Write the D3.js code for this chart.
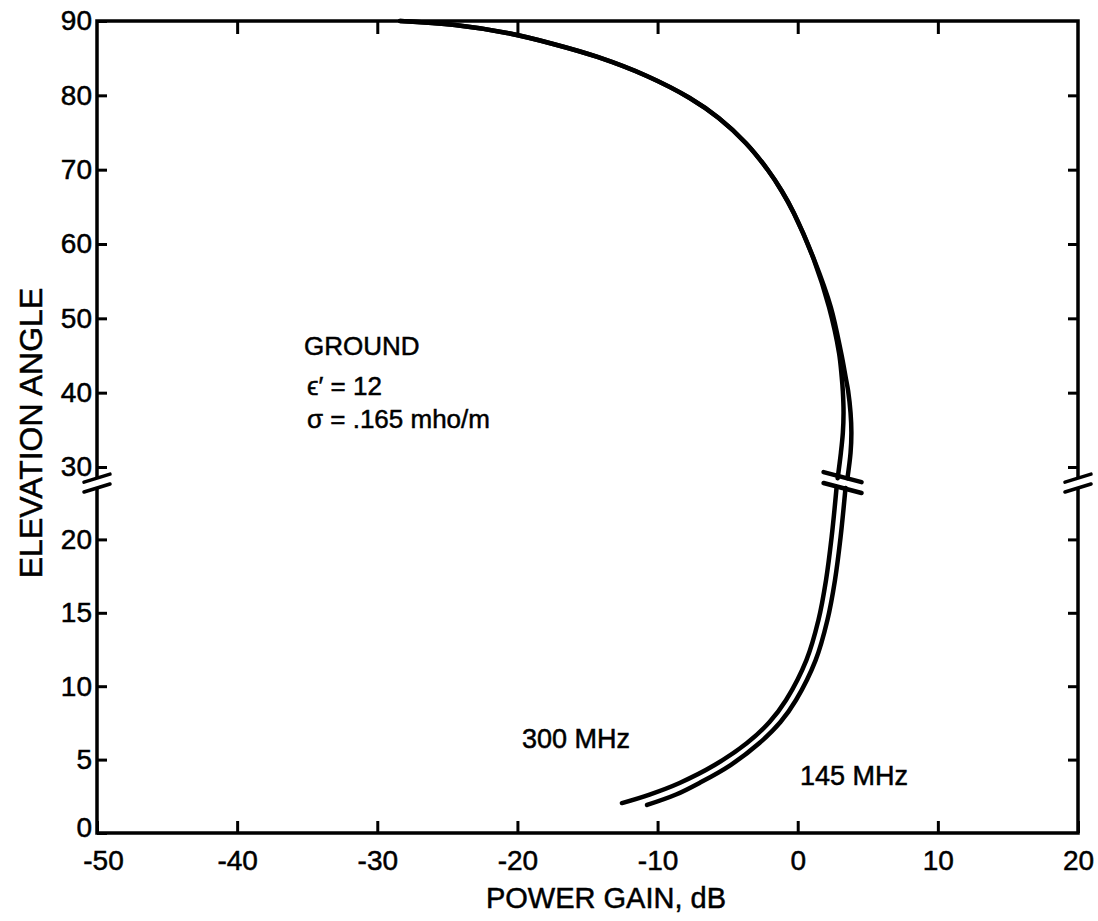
<!DOCTYPE html>
<html>
<head>
<meta charset="utf-8">
<script src="https://cdn.jsdelivr.net/npm/d3@7"></script>
<style>
  body { margin: 0; background: #fff; }
  svg { display: block; }
  text { font-family: "Liberation Sans", Arial, sans-serif; fill: #000; stroke: #000; stroke-width: 0.5px; }
</style>
</head>
<body>
<svg id="chart" width="1098" height="921"></svg>
<script>
// Elevation (deg) and power gain (dB). The y axis is broken
// between about 23.5 and 28.5 deg, so each series comes in an upper and lower piece.
const elevUpper = [90, 89.46, 88.39, 86.91, 85.16, 82.6, 79.64, 76.95, 73.59, 69.95, 67.13, 64.17, 57.85, 51.52, 45.33, 42.1, 40.2, 37.3, 34.6, 31.9, 28.5]
const gain300Upper = [-28.38, -24.45, -20.74, -17.45, -14.29, -10.77, -7.71, -5.64, -3.71, -2.13, -1.14, -0.28, 1.16, 2.23, 2.95, 3.14, 3.22, 3.27, 3.22, 3.08, 2.85]
const gain145Upper = [-28.38, -24.45, -20.74, -17.45, -14.29, -10.77, -7.71, -5.64, -3.71, -2.13, -1.14, -0.28, 1.18, 2.36, 3.1, 3.42, 3.6, 3.77, 3.83, 3.77, 3.55]

const elev300Lower = [23.5, 20.16, 17.23, 14.51, 11.78, 9.06, 7.56, 6.13, 4.63, 3.41, 2.62, 2.04]
const gain300Lower = [2.77, 2.42, 2.02, 1.48, 0.62, -0.83, -2.01, -3.62, -5.93, -8.43, -10.57, -12.54]
const elev145Lower = [23.5, 20.16, 17.23, 14.51, 11.78, 9.06, 7.56, 6.13, 4.63, 3.41, 2.62, 1.91]
const gain145Lower = [3.41, 3.06, 2.66, 2.12, 1.28, -0.12, -1.23, -2.73, -4.79, -7.01, -8.68, -10.75]

const xTicks = [-50, -40, -30, -20, -10, 0, 10, 20]
const yTicksUpper = [30, 40, 50, 60, 70, 80, 90]
const yTicksLower = [0, 5, 10, 15, 20]
const breakLow = 23.5
const breakHigh = 28.5

const L = 97, R = 1078, T = 21, B = 833

const svg = d3.select("#chart")

const x = d3.scaleLinear().domain([-50, 20]).range([L, R])
const yUpper = d3.scaleLinear().domain([30, 90]).range([467, T])
const yLower = d3.scaleLinear().domain([0, 25]).range([B, 466])

const gapTop = yUpper(breakHigh)
const gapBot = yLower(breakLow)

// frame, open where the axis is broken
const frame = d3.path()
frame.moveTo(L, gapTop); frame.lineTo(L, T); frame.lineTo(R, T); frame.lineTo(R, gapTop)
frame.moveTo(L, gapBot); frame.lineTo(L, B); frame.lineTo(R, B); frame.lineTo(R, gapBot)
svg.append("path").attr("d", frame.toString())
  .attr("fill", "none").attr("stroke", "#000").attr("stroke-width", 3.5)
  .attr("stroke-linejoin", "miter")

const styleAxis = (g, fontSize) => {
  g.select(".domain").remove()
  g.selectAll(".tick line").attr("stroke", "#000").attr("stroke-width", 3)
  g.selectAll(".tick text").attr("font-size", fontSize).attr("fill", "#000")
    .attr("font-family", "'Liberation Sans', Arial, sans-serif")
}

svg.append("g").attr("transform", `translate(0,${B})`)
  .call(d3.axisBottom(x).tickValues(xTicks).tickFormat(d => String(d)).tickSize(-12).tickPadding(17))
  .call(g => styleAxis(g, 28))
  .call(g => g.selectAll(".tick text").filter(d => d === -50).attr("dx", 6))
svg.append("g").attr("transform", `translate(0,${T})`)
  .call(d3.axisTop(x).tickValues(xTicks.slice(1, -1)).tickFormat("").tickSize(-13))
  .call(g => styleAxis(g, 28))

svg.append("g").attr("transform", `translate(${L},0)`)
  .call(d3.axisLeft(yUpper).tickValues(yTicksUpper).tickFormat(d => String(d)).tickSize(-10).tickPadding(5))
  .call(g => styleAxis(g, 28))
svg.append("g").attr("transform", `translate(${L},0)`)
  .call(d3.axisLeft(yLower).tickValues(yTicksLower).tickFormat(d => String(d)).tickSize(-10).tickPadding(5))
  .call(g => styleAxis(g, 28))
  .call(g => g.selectAll(".tick text").filter(d => d === 0).attr("y", -5))
svg.append("g").attr("transform", `translate(${R},0)`)
  .call(d3.axisRight(yUpper).tickValues(yTicksUpper.slice(0, -1)).tickFormat("").tickSize(-10))
  .call(g => styleAxis(g, 28))
svg.append("g").attr("transform", `translate(${R},0)`)
  .call(d3.axisRight(yLower).tickValues(yTicksLower.slice(1)).tickFormat("").tickSize(-10))
  .call(g => styleAxis(g, 28))

// break marks on the side axes
const axisBreak = (cx) => {
  [gapTop, gapBot].forEach(yy => {
    svg.append("line")
      .attr("x1", cx - 13).attr("y1", yy + 4).attr("x2", cx + 13).attr("y2", yy - 4)
      .attr("stroke", "#000").attr("stroke-width", 3.5).attr("stroke-linecap", "round")
  })
}
axisBreak(L)
axisBreak(R)

// curves
const line = (scale) => d3.line().x(d => x(d[1])).y(d => scale(d[0])).curve(d3.curveCatmullRom.alpha(0.5))
const pieces = [
  [yUpper, elevUpper, gain300Upper],
  [yUpper, elevUpper, gain145Upper],
  [yLower, elev300Lower, gain300Lower],
  [yLower, elev145Lower, gain145Lower]
]
pieces.forEach(([scale, elev, gain]) => {
  svg.append("path")
    .datum(d3.zip(elev, gain))
    .attr("d", line(scale))
    .attr("fill", "none").attr("stroke", "#000").attr("stroke-width", 4.5)
    .attr("stroke-linecap", "round").attr("stroke-linejoin", "round")
})

// break marks across the curves
const cx = x((gain300Upper[gain300Upper.length - 1] + gain145Upper[gain145Upper.length - 1]) / 2)
;[gapTop - 1, gapBot].forEach(yy => {
  svg.append("line")
    .attr("x1", cx - 19).attr("y1", yy - 5).attr("x2", cx + 19).attr("y2", yy + 5)
    .attr("stroke", "#000").attr("stroke-width", 4.5).attr("stroke-linecap", "round")
})

// labels
svg.append("text").attr("x", 606).attr("y", 908).attr("text-anchor", "middle")
  .attr("font-size", 29).text("POWER GAIN, dB")
svg.append("text").attr("transform", "translate(42,433) rotate(-90)").attr("text-anchor", "middle")
  .attr("font-size", 32).text("ELEVATION ANGLE")

svg.append("text").attr("x", 304).attr("y", 355).attr("font-size", 26).text("GROUND")
svg.append("text").attr("x", 307).attr("y", 395).attr("font-size", 26).text("ϵ′ = 12")
svg.append("text").attr("x", 307).attr("y", 428).attr("font-size", 26).text("σ = .165 mho/m")

svg.append("text").attr("x", 522).attr("y", 748).attr("font-size", 27).text("300 MHz")
svg.append("text").attr("x", 800).attr("y", 785).attr("font-size", 27).text("145 MHz")
</script>
</body>
</html>
